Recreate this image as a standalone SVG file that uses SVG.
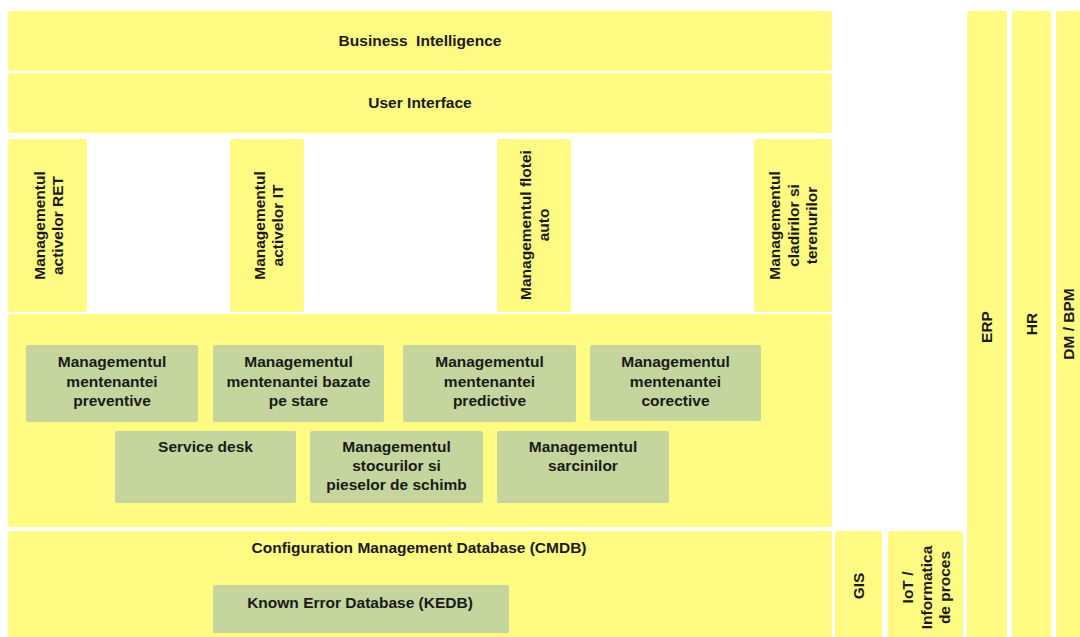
<svg xmlns="http://www.w3.org/2000/svg" width="1080" height="637" viewBox="0 0 1080 637">
<style>
.y{fill:#FFFA82}
.g{fill:#C4D69D}
text{font-family:"Liberation Sans",Arial,sans-serif;font-weight:bold;font-size:15.5px;fill:#1a1a1a;text-anchor:middle}
</style>
<rect width="1080" height="637" fill="#ffffff"/>
<g id="bi"><rect class="y" x="8" y="11" width="824" height="60" rx="3"/><text x="420" y="46" xml:space="preserve">Business  Intelligence</text></g>
<g id="ui"><rect class="y" x="8" y="73" width="824" height="60" rx="3"/><text x="420" y="108">User Interface</text></g>
<g id="ret"><rect class="y" x="8" y="139" width="79" height="173" rx="3"/>
<text transform="translate(45,225.5) rotate(-90)">Managementul</text>
<text transform="translate(63,225.5) rotate(-90)">activelor RET</text></g>
<g id="it"><rect class="y" x="230" y="139" width="74" height="173" rx="3"/>
<text transform="translate(265,225.5) rotate(-90)">Managementul</text>
<text transform="translate(283,225.5) rotate(-90)">activelor IT</text></g>
<g id="flota"><rect class="y" x="497" y="139" width="74" height="173" rx="3"/>
<text transform="translate(531,225) rotate(-90)">Managementul flotei</text>
<text transform="translate(549,225) rotate(-90)">auto</text></g>
<g id="cladiri"><rect class="y" x="754" y="139" width="78" height="173" rx="3"/>
<text transform="translate(780,225.5) rotate(-90)">Managementul</text>
<text transform="translate(798.5,225.5) rotate(-90)">cladirilor si</text>
<text transform="translate(817,225.5) rotate(-90)">terenurilor</text></g>
<g id="mentenanta"><rect class="y" x="8" y="314" width="824" height="213" rx="3"/></g>
<g id="preventiva"><rect class="g" x="26" y="345" width="172" height="77" rx="2"/>
<text x="112" y="367">Managementul</text><text x="112" y="386.5">mentenantei</text><text x="112" y="406">preventive</text></g>
<g id="stare"><rect class="g" x="213" y="345" width="171" height="77" rx="2"/>
<text x="298.5" y="367">Managementul</text><text x="298.5" y="386.5">mentenantei bazate</text><text x="298.5" y="406">pe stare</text></g>
<g id="predictiva"><rect class="g" x="403" y="345" width="173" height="77" rx="2"/>
<text x="489.5" y="367">Managementul</text><text x="489.5" y="386.5">mentenantei</text><text x="489.5" y="406">predictive</text></g>
<g id="corectiva"><rect class="g" x="590" y="345" width="171" height="76" rx="2"/>
<text x="675.5" y="367">Managementul</text><text x="675.5" y="386.5">mentenantei</text><text x="675.5" y="406">corective</text></g>
<g id="servicedesk"><rect class="g" x="115" y="431" width="181" height="72" rx="2"/>
<text x="205.5" y="452">Service desk</text></g>
<g id="stocuri"><rect class="g" x="310" y="431" width="173" height="72" rx="2"/>
<text x="396.5" y="452">Managementul</text><text x="396.5" y="471">stocurilor si</text><text x="396.5" y="490">pieselor de schimb</text></g>
<g id="sarcini"><rect class="g" x="497" y="431" width="172" height="72" rx="2"/>
<text x="583" y="452">Managementul</text><text x="583" y="471">sarcinilor</text></g>
<g id="cmdb"><rect class="y" x="8" y="531" width="824" height="110" rx="3"/>
<text x="419" y="553">Configuration Management Database (CMDB)</text></g>
<g id="kedb"><rect class="g" x="213" y="585" width="296" height="48" rx="2"/>
<text x="360" y="608">Known Error Database (KEDB)</text></g>
<g id="gis"><rect class="y" x="835" y="531" width="47" height="110" rx="3"/>
<text transform="translate(864,586) rotate(-90)">GIS</text></g>
<g id="iot"><rect class="y" x="888" y="531" width="75" height="110" rx="3"/>
<text transform="translate(913,587.5) rotate(-90)">IoT /</text>
<text transform="translate(931.5,587.5) rotate(-90)">Informatica</text>
<text transform="translate(950,587.5) rotate(-90)">de proces</text></g>
<g id="erp"><rect class="y" x="967" y="11" width="40" height="630" rx="3"/>
<text transform="translate(992,327) rotate(-90)">ERP</text></g>
<g id="hr"><rect class="y" x="1012" y="11" width="39" height="630" rx="3"/>
<text transform="translate(1037,324) rotate(-90)">HR</text></g>
<g id="dmbpm"><rect class="y" x="1056" y="11" width="40" height="630" rx="3"/>
<text transform="translate(1074,324) rotate(-90)">DM / BPM</text></g>
<g id="connectors"></g>
</svg>
